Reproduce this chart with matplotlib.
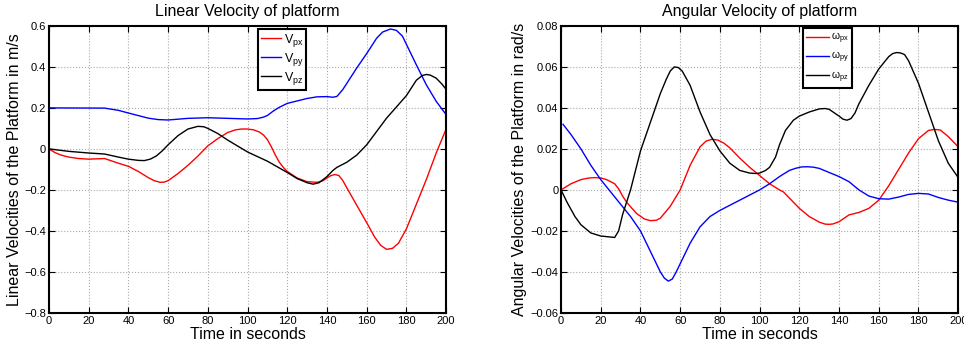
import numpy as np
import matplotlib
matplotlib.use('Agg')
import matplotlib.pyplot as plt

plt.rcParams['font.family'] = ['Liberation Sans', 'DejaVu Sans']
plt.rcParams['mathtext.fontset'] = 'custom'
plt.rcParams['mathtext.rm'] = 'Liberation Sans'

# linear velocity (m/s)
t_vpx = [0, 3, 6, 10, 15, 20, 28, 35, 40, 45, 50, 53, 56, 58, 60, 65, 70, 75, 80, 85, 90, 94, 97, 100,
         103, 106, 108, 110, 112, 114, 116, 118, 120, 125, 130, 135, 138, 140, 142, 144, 146, 148, 150,
         155, 160, 164, 167, 170, 173, 176, 180, 185, 190, 195, 200]
vpx = [0, -0.018, -0.03, -0.04, -0.047, -0.05, -0.047, -0.07, -0.085, -0.11, -0.14, -0.155, -0.163,
       -0.162, -0.155, -0.12, -0.08, -0.035, 0.015, 0.05, 0.08, 0.093, 0.097, 0.097, 0.093, 0.082, 0.068,
       0.045, 0.01, -0.03, -0.065, -0.09, -0.11, -0.142, -0.16, -0.163, -0.155, -0.142, -0.13, -0.125,
       -0.13, -0.155, -0.19, -0.275, -0.36, -0.43, -0.47, -0.49, -0.485, -0.46, -0.39, -0.27, -0.15,
       -0.02, 0.097]

t_vpy = [0, 28, 35, 40, 50, 55, 60, 70, 80, 90, 100, 105, 108, 110, 113, 116, 120, 130, 135, 140, 143,
         145, 148, 150, 155, 160, 165, 168, 172, 175, 178, 180, 185, 190, 195, 200]
vpy = [0.2, 0.199, 0.188, 0.175, 0.15, 0.143, 0.141, 0.149, 0.152, 0.149, 0.146, 0.148, 0.155, 0.163,
       0.185, 0.203, 0.222, 0.246, 0.254, 0.255, 0.252, 0.256, 0.29, 0.32, 0.395, 0.465, 0.54, 0.57,
       0.585, 0.578, 0.55, 0.51, 0.41, 0.313, 0.232, 0.167]

t_vpz = [0, 10, 20, 28, 35, 40, 45, 48, 51, 54, 57, 60, 65, 70, 75, 78, 80, 85, 90, 100, 110, 120,
         125, 130, 133, 136, 138, 140, 143, 145, 150, 155, 160, 170, 180, 185, 188, 190, 192, 195, 198,
         200]
vpz = [0, -0.012, -0.02, -0.025, -0.04, -0.05, -0.056, -0.057, -0.05, -0.035, -0.01, 0.02, 0.065,
       0.097, 0.11, 0.108, 0.1, 0.075, 0.043, -0.015, -0.06, -0.115, -0.145, -0.165, -0.172, -0.165,
       -0.15, -0.135, -0.105, -0.09, -0.065, -0.03, 0.02, 0.15, 0.26, 0.335, 0.358, 0.363, 0.36, 0.345,
       0.315, 0.29]

# angular velocity (rad/s)
t_wpx = [0, 5, 10, 14, 17, 20, 23, 27, 29, 31, 33, 38, 42, 45, 48, 50, 55, 60, 65, 70, 73, 76, 79, 82,
         85, 90, 95, 100, 105, 110, 112, 115, 120, 125, 130, 133, 135, 137, 140, 145, 150, 155, 160, 165,
         170, 175, 180, 185, 188, 191, 195, 200]
wpx = [0, 0.003, 0.005, 0.0058, 0.006, 0.0058, 0.005, 0.003, 0.0005, -0.003, -0.006, -0.0115, -0.0142,
       -0.015, -0.0148, -0.0138, -0.008, 0.0, 0.012, 0.021, 0.0238, 0.0247, 0.0243, 0.0228, 0.0205,
       0.0155, 0.011, 0.007, 0.003, 0.0, -0.001, -0.004, -0.009, -0.013, -0.0157, -0.0167, -0.0168,
       -0.0166, -0.0155, -0.0122, -0.011, -0.009, -0.005, 0.002, 0.01, 0.018, 0.025, 0.029, 0.0295,
       0.0292, 0.026, 0.021]

t_wpy = [1, 5, 10, 15, 20, 25, 30, 35, 40, 45, 50, 52, 54, 56, 58, 60, 65, 70, 75, 80, 90, 100, 105,
         110, 115, 118, 121, 124, 127, 130, 135, 140, 145, 150, 155, 160, 165, 170, 175, 180, 185, 190,
         195, 200]
wpy = [0.032, 0.027, 0.02, 0.012, 0.005, -0.001, -0.007, -0.013, -0.02, -0.03, -0.04, -0.043, -0.0445,
       -0.0435, -0.04, -0.036, -0.026, -0.018, -0.013, -0.01, -0.005, 0.0, 0.003, 0.0065, 0.0095, 0.0105,
       0.0112, 0.0113, 0.0111, 0.0105, 0.0085, 0.0065, 0.004, 0.0, -0.003, -0.0043, -0.0045, -0.0035,
       -0.0022, -0.0017, -0.002, -0.0037, -0.005, -0.006]

t_wpz = [0, 3, 7, 10, 15, 20, 25, 27, 29, 31, 35, 40, 45, 50, 53, 55, 57, 59, 61, 65, 70, 75, 80, 85,
         90, 95, 98, 100, 103, 105, 108, 110, 113, 117, 120, 125, 130, 133, 135, 140, 142, 144, 146, 148,
         150, 155, 160, 165, 167, 169, 171, 173, 175, 180, 185, 190, 195, 200]
wpz = [0, -0.006, -0.013, -0.017, -0.021, -0.0225, -0.023, -0.0232, -0.02, -0.012, 0.0, 0.019, 0.033,
       0.047, 0.054, 0.058, 0.06, 0.0597, 0.058, 0.051, 0.038, 0.027, 0.019, 0.013, 0.0095, 0.0082,
       0.008, 0.0082, 0.0095, 0.011, 0.016, 0.022, 0.029, 0.034, 0.036, 0.038, 0.0395, 0.0397, 0.0393,
       0.036, 0.0345, 0.034, 0.0348, 0.0375, 0.042, 0.051, 0.059, 0.065, 0.0665, 0.067, 0.0668, 0.066,
       0.063, 0.052, 0.038, 0.024, 0.013, 0.006]


def style_axes(ax):
    ax.grid(True, linestyle=':', color='#aaaaaa', linewidth=0.8)
    ax.tick_params(direction='in', top=True, right=True, labelsize=8, length=4, pad=2)
    for s in ax.spines.values():
        s.set_linewidth(1.5)


fig = plt.figure(figsize=(9.64, 3.5), dpi=100)

ax1 = fig.add_axes([0.0508, 0.106, 0.412, 0.82])
ax1.plot(t_vpx, vpx, color='red', lw=1, label=r'V$_{\mathregular{px}}$')
ax1.plot(t_vpy, vpy, color='blue', lw=1, label=r'V$_{\mathregular{py}}$')
ax1.plot(t_vpz, vpz, color='black', lw=1, label=r'V$_{\mathregular{pz}}$')
ax1.set_xlim(0, 200)
ax1.set_ylim(-0.8, 0.6)
ax1.set_xticks(np.arange(0, 201, 20))
ax1.set_yticks(np.arange(-0.8, 0.61, 0.2))
ax1.yaxis.set_major_formatter(matplotlib.ticker.FuncFormatter(
    lambda v, p: '0' if abs(v) < 1e-9 else ('%.1f' % v).replace('-', '\u2212')))
ax1.set_title('Linear Velocity of platform', fontsize=11.5, pad=7)
ax1.set_xlabel('Time in seconds', fontsize=11.5, labelpad=1)
ax1.set_ylabel('Linear Velocities of the Platform in m/s', fontsize=11.5, labelpad=2)
style_axes(ax1)
leg1 = ax1.legend(loc='upper left', bbox_to_anchor=(0.526, 0.99), fontsize=9, fancybox=False,
                  framealpha=1, edgecolor='black', handlelength=1.6, handletextpad=0.2,
                  labelspacing=0.15, borderpad=0.25, borderaxespad=0)
leg1.get_frame().set_linewidth(1.5)

ax2 = fig.add_axes([0.582, 0.106, 0.412, 0.82])
ax2.plot(t_wpx, wpx, color='red', lw=1, label=r'$\mathregular{\omega_{px}}$')
ax2.plot(t_wpy, wpy, color='blue', lw=1, label=r'$\mathregular{\omega_{py}}$')
ax2.plot(t_wpz, wpz, color='black', lw=1, label=r'$\mathregular{\omega_{pz}}$')
ax2.set_xlim(0, 200)
ax2.set_ylim(-0.06, 0.08)
ax2.set_xticks(np.arange(0, 201, 20))
ax2.set_yticks(np.arange(-0.06, 0.081, 0.02))
ax2.yaxis.set_major_formatter(matplotlib.ticker.FuncFormatter(
    lambda v, p: '0' if abs(v) < 1e-9 else ('%.2f' % v).replace('-', '\u2212')))
ax2.set_title('Angular Velocity of platform', fontsize=11.5, pad=7)
ax2.set_xlabel('Time in seconds', fontsize=11.5, labelpad=1)
ax2.set_ylabel('Angular Velocities of the Platform in rad/s', fontsize=11.5, labelpad=2)
style_axes(ax2)
leg2 = ax2.legend(loc='upper left', bbox_to_anchor=(0.61, 0.993), fontsize=7.5, fancybox=False,
                  framealpha=1, edgecolor='black', handlelength=2.2, handletextpad=0.2,
                  labelspacing=0.35, borderpad=0.3, borderaxespad=0)
leg2.get_frame().set_linewidth(1.5)

fig.savefig('out.png', dpi=100)
